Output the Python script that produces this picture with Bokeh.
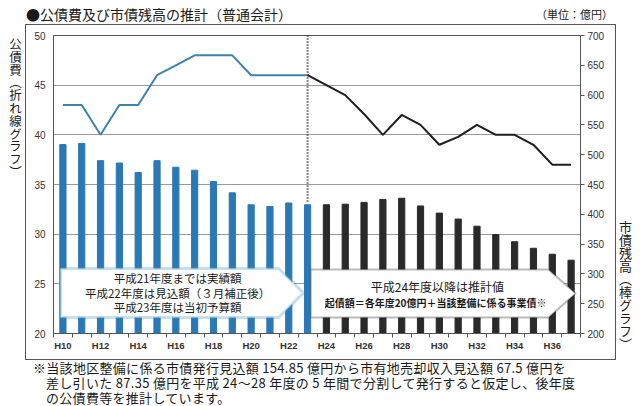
from bokeh.plotting import figure
from bokeh.models import (LinearAxis, Range1d, FixedTicker, Label, PolyAnnotation,
                          ColumnDataSource, Div)
from bokeh.layouts import column, row
from bokeh.embed import file_html
from bokeh.resources import INLINE

# ---- data ----
years = list(range(10, 38))  # 平成10年度〜平成37年度
outstanding = [517, 519, 490, 486, 470, 490, 479, 474, 455, 436, 416, 413, 419, 416,
               416, 417, 420, 425, 427, 414, 402, 392, 380, 366, 354, 343, 333, 323]  # 市債残高（億円）
debt_service = [43, 43, 40, 43, 43, 46, 47, 48, 48, 48, 46, 46, 46, 46,
                45, 44, 42.1, 40, 42, 41, 39, 39.8, 41, 40, 40, 39, 37, 37]  # 公債費（億円）
last_actual_year = 23
x_tick_years = [10, 12, 14, 16, 18, 20, 22, 24, 26, 28, 30, 32, 34, 36]
x_tick_labels = ["H10", "H12", "H14", "H16", "H18", "H20", "H22",
                 "H24", "H26", "H28", "H30", "H32", "H34", "H36"]
left_ticks = [20, 25, 30, 35, 40, 45, 50]
right_ticks = [200, 250, 300, 350, 400, 450, 500, 550, 600, 650, 700]

title_text = "●公債費及び市債残高の推計（普通会計）"
unit_text = "（単位：億円）"
left_label = "公債費（折れ線グラフ）"
right_label = "市債残高（棒グラフ）"
box1_lines = ["平成21年度までは実績額", "平成22年度は見込額（３月補正後）", "平成23年度は当初予算額"]
box2_lines = ["平成24年度以降は推計値", "起債額＝各年度20億円＋当該整備に係る事業債※"]
notes = ["※当該地区整備に係る市債発行見込額 154.85 億円から市有地売却収入見込額 67.5 億円を",
         "差し引いた 87.35 億円を平成 24～28 年度の 5 年間で分割して発行すると仮定し、後年度",
         "の公債費等を推計しています。"]

BLUE_BAR = "#2a78b6"
BLUE_LINE = "#3b84ad"
DARK = "#2a2a2a"
FRAME = "#555555"
TXT = "#1a1a1a"
JP = "Noto Sans CJK JP"
NUM = "Liberation Sans"

p = figure(width=589, height=334, x_range=Range1d(9.5, 37.5), y_range=Range1d(20, 50),
           output_backend="svg", toolbar_location=None, margin=0,
           min_border_left=27, min_border_right=35, min_border_top=10, min_border_bottom=26)
p.background_fill_color = "white"
p.border_fill_color = "white"
p.outline_line_color = FRAME
p.outline_line_width = 1

# left axis
ya = p.left[0]
ya.ticker = FixedTicker(ticks=left_ticks)
ya.major_tick_out = 0
ya.major_tick_in = 0
ya.minor_tick_out = 0
ya.major_label_standoff = 8
ya.major_label_text_font = NUM
ya.major_label_text_font_size = "10px"
ya.major_label_text_color = "#333333"
ya.axis_line_color = FRAME

# bottom axis
xa = p.below[0]
xa.ticker = FixedTicker(ticks=x_tick_years, minor_ticks=[y - 0.5 for y in years] + [years[-1] + 0.5])
xa.major_label_overrides = {t: l for t, l in zip(x_tick_years, x_tick_labels)}
xa.major_tick_out = 0
xa.major_tick_in = 0
xa.minor_tick_out = 4
xa.minor_tick_in = 0
xa.minor_tick_line_color = FRAME
xa.major_label_standoff = 2
xa.major_label_text_font = NUM
xa.major_label_text_font_size = "9.5px"
xa.major_label_text_font_style = "bold"
xa.major_label_text_color = "#333333"
xa.axis_line_color = FRAME

# right axis
p.extra_y_ranges = {"right": Range1d(200, 700)}
ra = LinearAxis(y_range_name="right", ticker=FixedTicker(ticks=right_ticks))
ra.major_tick_out = 4
ra.major_tick_in = 0
ra.minor_tick_out = 0
ra.major_tick_line_color = FRAME
ra.major_label_standoff = 3
ra.major_label_text_font = NUM
ra.major_label_text_font_size = "10px"
ra.major_label_text_color = "#333333"
ra.axis_line_color = FRAME
p.add_layout(ra, "right")

p.xgrid.visible = False
p.ygrid.ticker = FixedTicker(ticks=left_ticks)
p.ygrid.grid_line_color = "#9a9a9a"
p.ygrid.grid_line_width = 1

# bars
colors = [BLUE_BAR if y <= last_actual_year else DARK for y in years]
bar_src = ColumnDataSource(dict(x=years, top=outstanding, color=colors))
p.vbar(x="x", top="top", bottom=right_ticks[0], width=0.33, color="color",
       source=bar_src, y_range_name="right")

# dotted divider
idx = years.index(last_actual_year)
p.segment(x0=[last_actual_year], y0=[right_ticks[-1]], x1=[last_actual_year], y1=[outstanding[idx] + 3],
          y_range_name="right", line_color="#111111", line_width=2, line_dash="1 2")

# lines
p.line(years[:idx + 1], debt_service[:idx + 1], line_color=BLUE_LINE, line_width=2)
p.line(years[idx:], debt_service[idx:], line_color="#1e1e1e", line_width=2)

# callout boxes
p.add_layout(PolyAnnotation(xs=[9.87, 21.46, 22.78, 21.46, 9.87], ys=[26.54, 26.54, 24.08, 21.61, 21.61],
                            fill_color="white", fill_alpha=1, line_color="#3f95cc", line_width=3))
p.add_layout(PolyAnnotation(xs=[23.17, 35.8, 37.24, 35.8, 23.17], ys=[26.44, 26.44, 24.03, 21.61, 21.61],
                            fill_color="white", fill_alpha=1, line_color="#1a1a1a", line_width=2))
for txt, yy in zip(box1_lines, [25.54, 24.06, 22.62]):
    p.add_layout(Label(x=16.09, y=yy, text=txt, text_align="center", text_baseline="middle",
                       text_font=JP, text_font_size="11.5px", text_color=TXT))
p.add_layout(Label(x=29.9, y=24.73, text=box2_lines[0], text_align="center", text_baseline="middle",
                   text_font=JP, text_font_size="12px", text_color=TXT))
p.add_layout(Label(x=29.8, y=23.12, text=box2_lines[1], text_align="center", text_baseline="middle",
                   text_font=JP, text_font_size="10px", text_font_style="bold", text_color=TXT))

# ---- surrounding texts and outer frame (HTML) ----
font_css = "font-family:'Noto Sans CJK JP','Noto Sans CJK SC',sans-serif;color:%s;" % TXT

top_html = (
    '<div style="position:relative;width:640px;height:25px;%s">' % font_css
    + '<span style="position:absolute;left:26px;top:7px;font-size:14px;line-height:14px;white-space:nowrap;">%s</span>' % title_text
    + '<span style="position:absolute;right:27px;top:8px;font-size:11px;line-height:13px;white-space:nowrap;">%s</span>' % unit_text
    + '<div style="position:absolute;left:25px;top:24px;width:591px;height:1px;background:%s;"></div>' % FRAME
    + '</div>'
)
left_html = (
    '<div style="position:relative;width:26px;height:334px;%s">' % font_css
    + '<div style="position:absolute;left:8px;top:13px;writing-mode:vertical-rl;font-size:12.5px;line-height:14px;letter-spacing:0.3px;white-space:nowrap;">%s</div>' % left_label
    + '<div style="position:absolute;left:25px;top:0px;width:1px;height:334px;background:%s;"></div>' % FRAME
    + '</div>'
)
right_html = (
    '<div style="position:relative;width:25px;height:334px;%s">' % font_css
    + '<div style="position:absolute;left:0px;top:0px;width:1px;height:334px;background:%s;"></div>' % FRAME
    + '<div style="position:absolute;left:3px;top:196px;writing-mode:vertical-rl;font-size:13px;line-height:14px;white-space:nowrap;">%s</div>' % right_label
    + '</div>'
)
bottom_html = (
    '<div style="position:relative;width:640px;height:47px;%s">' % font_css
    + '<div style="position:absolute;left:25px;top:0px;width:591px;height:1px;background:%s;"></div>' % FRAME
    + '<div style="position:absolute;left:33px;top:0.5px;padding-left:13px;text-indent:-13px;white-space:pre;'
      'font-size:13px;line-height:15px;letter-spacing:0.3px;">%s</div>' % "\n".join(notes)
    + '</div>'
)

top_div = Div(text=top_html, width=640, height=25, margin=0)
left_div = Div(text=left_html, width=26, height=334, margin=0)
right_div = Div(text=right_html, width=25, height=334, margin=0)
bottom_div = Div(text=bottom_html, width=640, height=47, margin=0)

layout = column(top_div, row(left_div, p, right_div, spacing=0, margin=0), bottom_div,
                spacing=0, margin=0)

open("out.html", "w").write(file_html(layout, INLINE))
